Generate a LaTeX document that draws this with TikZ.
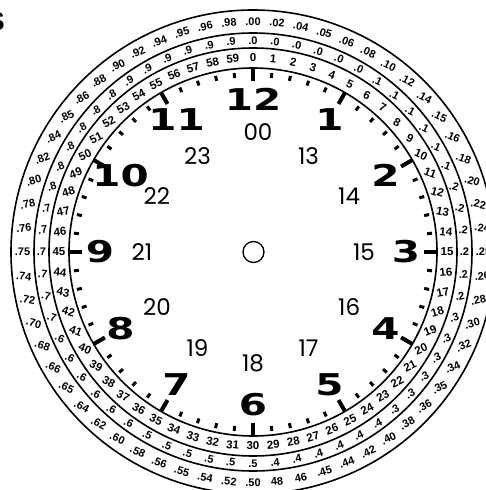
\documentclass[tikz,border=0pt]{standalone}
\usepackage{fontspec}
\setmainfont{Liberation Sans}
\newfontfamily\hourfont[FakeStretch=1.35]{DejaVu Sans}
\newfontfamily\dayfont{Poppins}
\usetikzlibrary{calc}

\begin{document}
\begin{tikzpicture}[x=1pt,y=1pt,
    ring/.style={line width=1.6pt},
    fraclabel/.style={font=\bfseries\fontsize{11}{11}\selectfont,inner sep=0pt},
    minlabel/.style={font=\bfseries\fontsize{11.5}{11.5}\selectfont,inner sep=0pt},
    minutemark/.style={line width=3pt},
    hourtick/.style={line width=4pt},
    hournum/.style={font=\hourfont\bfseries\fontsize{30}{30}\selectfont,inner sep=0pt},
    daynum/.style={font=\dayfont\fontsize{23}{23}\selectfont,inner sep=0pt}
  ]
    \useasboundingbox (-253,-238) rectangle (232,252);
    % page letter cut by the edge
    \node[font=\bfseries\fontsize{26}{26}\selectfont,inner sep=0pt] (pageS) at (-257,230) {S};

    % the four rings
    \foreach \r in {184,204,219,242}
      \draw[ring] (0,0) circle[radius=\r];

    % outer ring: minutes as decimal of the hour
    \foreach \lbl [count=\n from 0] in {.00,.02,.04,.05,.06,.08,.10,.12,.14,.15,.16,.18,
        .20,.22,.24,.25,.26,.28,.30,.32,.34,.35,.36,.38,.40,.42,.44,.45,46,48,
        .50,.52,.54,.55,.56,.58,.60,.62,.64,.65,.66,.68,.70,.72,.74,.75,.76,.78,
        .80,.82,.84,.85,.86,.88,.90,.92,.94,.95,.96,.98}{
      \pgfmathsetmacro\tilt{-28*sin(12*\n)}
      \node[fraclabel,rotate=\tilt] (frac\n) at (90-6*\n:230.5) {\lbl};
    }
    % middle ring: tenths
    \foreach \n in {0,...,59}{
      \pgfmathtruncatemacro\tenth{floor(\n/6)}
      \pgfmathsetmacro\tilt{-28*sin(12*\n)}
      \node[fraclabel,rotate=\tilt] (tenth\n) at (90-6*\n:211.5) {.\tenth};
    }
    % inner ring: minutes
    \foreach \n in {0,...,59}{
      \pgfmathsetmacro\tilt{-28*sin(12*\n)}
      \node[minlabel,rotate=\tilt] (min\n) at (90-6*\n:194) {\n};
    }

    % minute marks and hour ticks
    \foreach \n in {0,...,59}
      \draw[minutemark] (90-6*\n:175) -- (90-6*\n:180);
    \foreach \h in {0,...,11}
      \draw[hourtick] (90-30*\h:171) -- (90-30*\h:184);

    % 12 hour figures
    \foreach \h/\txt in {0/12,1/1,2/2,3/3,4/4,5/5,6/6,7/7,8/8,9/9,10/10,11/11}
      \node[hournum] (hour\txt) at (90-30*\h:153) {\txt};

    % 24 hour figures
    \node[daynum] (day00) at (5,120) {00};
    \foreach \h/\txt in {1/13,2/14,3/15,4/16,5/17,6/18,7/19,8/20,9/21,10/22,11/23}
      \node[daynum] (day\txt) at (90-30*\h:111) {\txt};

    \node[draw,circle,line width=1.3pt,minimum size=21pt,inner sep=0pt] (pivot) at (0.5,0) {};
  \end{tikzpicture}
\end{document}
